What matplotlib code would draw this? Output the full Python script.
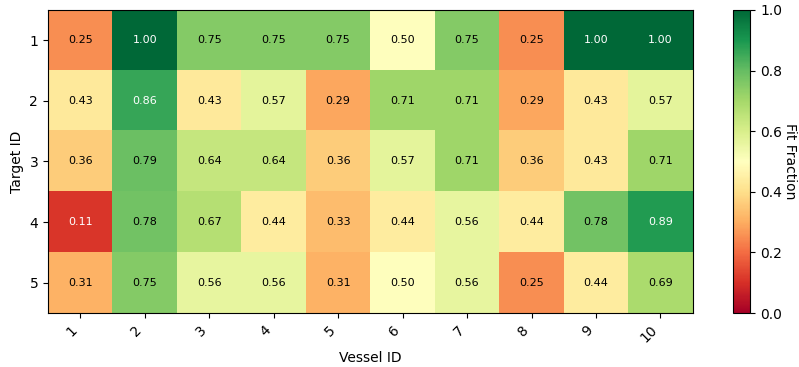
import numpy as np
import matplotlib
matplotlib.use("Agg")
import matplotlib.pyplot as plt

vessels = [str(i) for i in range(1, 11)]
targets = [str(i) for i in range(1, 6)]

row1 = [0.25, 1.00, 0.75, 0.75, 0.75, 0.50, 0.75, 0.25, 1.00, 1.00]
row2 = [0.43, 0.86, 0.43, 0.57, 0.29, 0.71, 0.71, 0.29, 0.43, 0.57]
row3 = [0.36, 0.79, 0.64, 0.64, 0.36, 0.57, 0.71, 0.36, 0.43, 0.71]
row4 = [0.11, 0.78, 0.67, 0.44, 0.33, 0.44, 0.56, 0.44, 0.78, 0.89]
row5 = [0.31, 0.75, 0.56, 0.56, 0.31, 0.50, 0.56, 0.25, 0.44, 0.69]

data = np.array([row1, row2, row3, row4, row5])

fig = plt.figure(figsize=(7.99, 3.67), dpi=100)
ax = fig.add_axes([0.060, 0.147, 0.807, 0.826])
cax = fig.add_axes([0.917, 0.147, 0.022, 0.826])

im = ax.imshow(data, cmap='RdYlGn', vmin=0, vmax=1, aspect='auto')

ax.set_xticks(range(len(vessels)))
ax.set_xticklabels(vessels, rotation=45, ha='right')
ax.set_yticks(range(len(targets)))
ax.set_yticklabels(targets)
ax.set_xlabel('Vessel ID')
ax.set_ylabel('Target ID')

for i in range(data.shape[0]):
    for j in range(data.shape[1]):
        v = data[i, j]
        color = 'white' if (v > 0.8 or v < 0.2) else 'black'
        ax.text(j, i, f'{v:.2f}', ha='center', va='center', fontsize=8, color=color)

cbar = fig.colorbar(im, cax=cax)
cbar.set_label('Fit Fraction', rotation=270, labelpad=11)

fig.savefig('out.png', dpi=100)
